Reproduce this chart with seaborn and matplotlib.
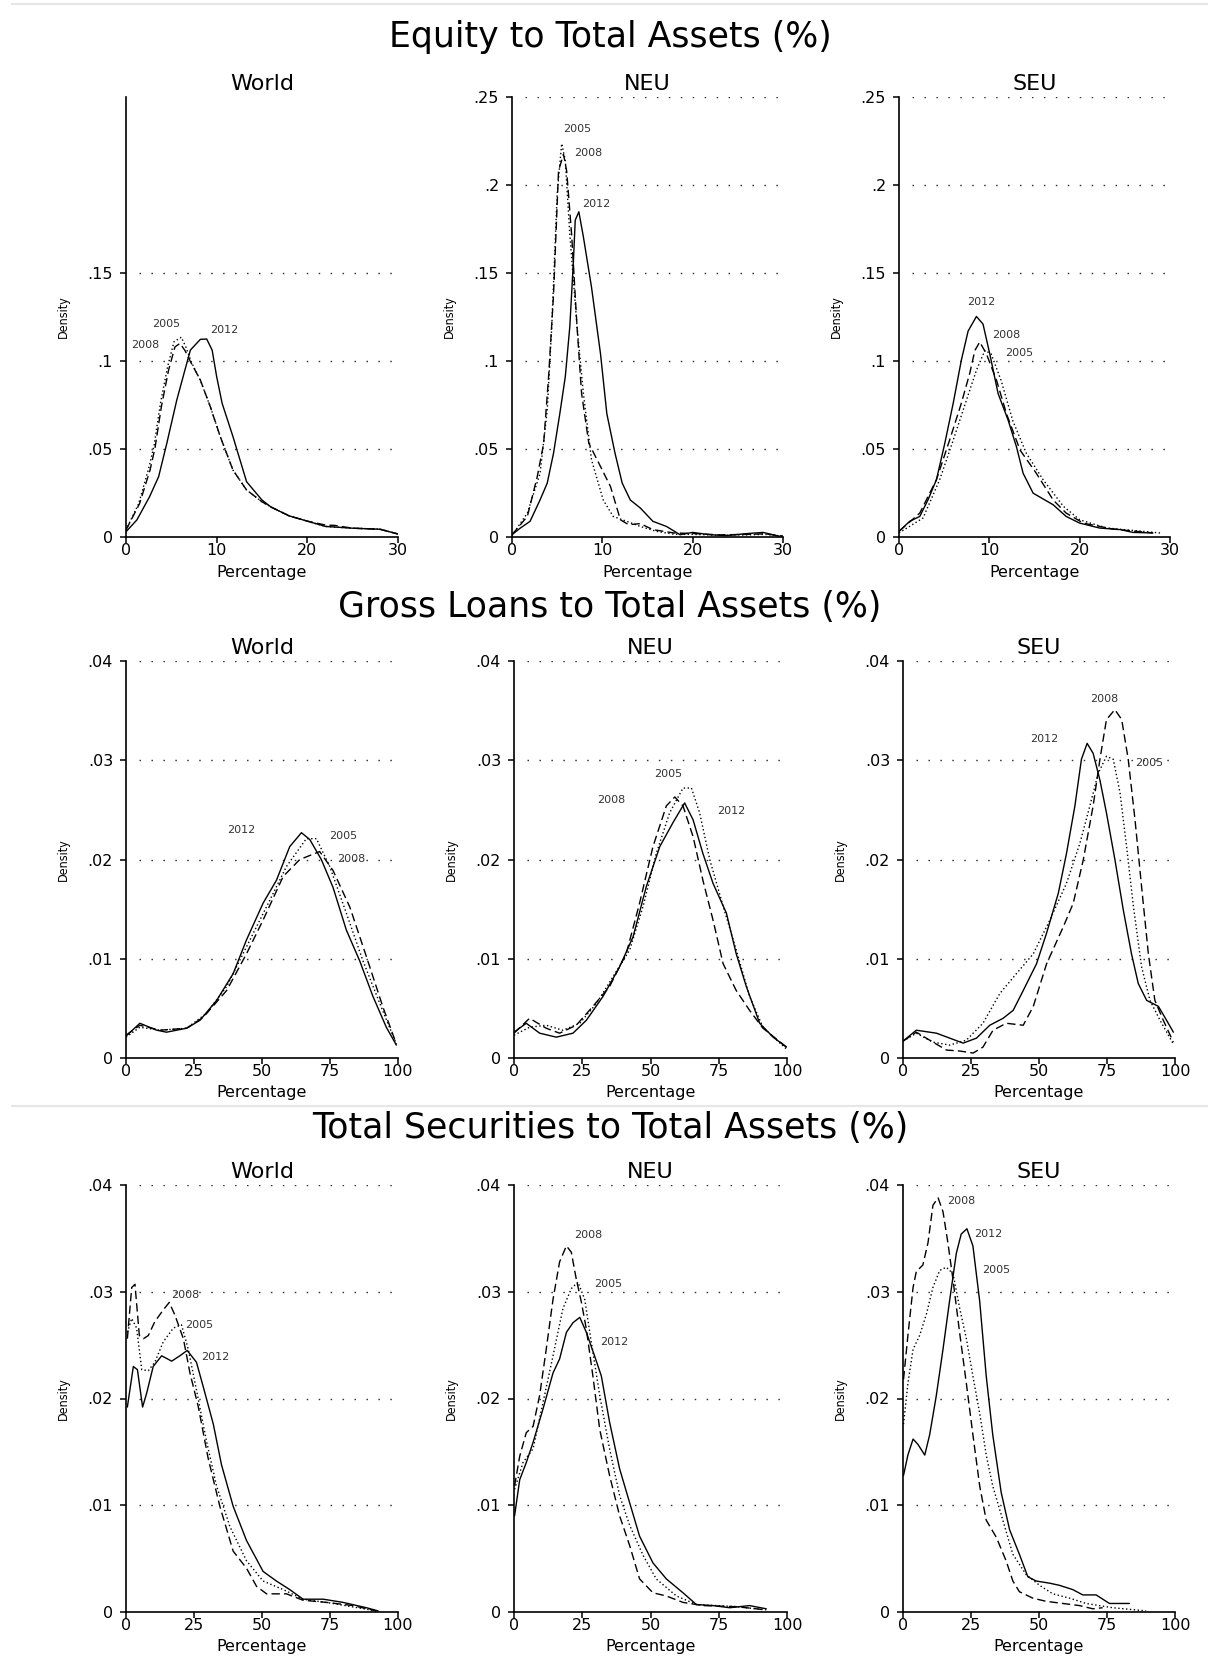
# bank_ratios_kdensity.py
# Kernel density of bank balance-sheet ratios, World / NEU / SEU, 2005-2008-2012

# === Imports ===
import matplotlib
matplotlib.use("Agg")
import matplotlib.pyplot as plt
from matplotlib import font_manager
from matplotlib.lines import Line2D
import pandas as pd
import seaborn as sns

# === Data ===
years = ["2005", "2008", "2012"]
regions = ["World", "NEU", "SEU"]
row_titles = ["Equity to Total Assets (%)",
              "Gross Loans to Total Assets (%)",
              "Total Securities to Total Assets (%)"]

eq_xticks = [0, 10, 20, 30]
eq_yticks = [0, 0.05, 0.1, 0.15, 0.2, 0.25]
eq_yticks_world = [0, 0.05, 0.1, 0.15]
pct_xticks = [0, 25, 50, 75, 100]
pct_yticks = [0, 0.01, 0.02, 0.03, 0.04]

# --- Equity to Total Assets ---
eq_world_2005_x = [0, 1.4, 2.5, 3.1, 3.8, 4.6, 5.3, 6.1, 6.6, 7.2, 8.2, 9.3, 10.4, 11.8, 13.3, 15, 16, 18, 20, 22, 25, 28, 30]
eq_world_2005_y = [0.004, 0.019, 0.039, 0.052, 0.076, 0.097, 0.111, 0.1135, 0.108, 0.0995, 0.089, 0.074, 0.057, 0.038, 0.0267, 0.020, 0.017, 0.012, 0.009, 0.006, 0.005, 0.0045, 0.0017]
eq_world_2008_x = [0, 1.5, 2.65, 3.2, 3.9, 4.7, 5.4, 5.95, 6.5, 7.2, 8.2, 9.3, 10.4, 11.8, 13.3, 15, 16, 18, 20, 22, 23, 25, 28, 30]
eq_world_2008_y = [0.004, 0.019, 0.038, 0.0506, 0.074, 0.0949, 0.108, 0.110, 0.106, 0.0987, 0.0892, 0.074, 0.057, 0.038, 0.0267, 0.020, 0.017, 0.012, 0.009, 0.0068, 0.0066, 0.005, 0.0044, 0.0017]
eq_world_2012_x = [0, 1.2, 2.6, 3.6, 4.5, 5.6, 6.5, 7.1, 8.2, 8.9, 9.5, 10, 10.6, 11.8, 13.3, 15, 16, 18, 20, 22, 25, 28, 30]
eq_world_2012_y = [0.003, 0.0097, 0.0229, 0.0343, 0.0532, 0.0778, 0.0949, 0.1062, 0.1123, 0.1125, 0.1062, 0.0911, 0.076, 0.057, 0.0314, 0.021, 0.017, 0.012, 0.009, 0.006, 0.005, 0.0044, 0.0017]

eq_neu_2005_x = [0, 1.7, 3.1, 3.9, 4.4, 5.0, 5.5, 5.9, 6.4, 7.2, 7.9, 8.8, 10.1, 11.2, 12.7, 14.2, 16, 18, 20, 23, 26, 28, 30]
eq_neu_2005_y = [0.0008, 0.0136, 0.036, 0.072, 0.1195, 0.195, 0.2235, 0.214, 0.172, 0.1195, 0.0817, 0.0439, 0.021, 0.0117, 0.0089, 0.006, 0.0032, 0.0015, 0.0015, 0.001, 0.0012, 0.0015, 0.0005]
eq_neu_2008_x = [0, 1.7, 2.8, 3.5, 4.05, 4.6, 5.15, 5.7, 6.05, 6.6, 7.2, 7.7, 8.5, 9.8, 10.9, 12.0, 12.9, 14.2, 15.6, 17.9, 20, 23, 26, 28, 30]
eq_neu_2008_y = [0.0013, 0.0117, 0.0344, 0.053, 0.091, 0.138, 0.208, 0.2175, 0.208, 0.172, 0.1195, 0.0817, 0.0533, 0.040, 0.0287, 0.0098, 0.007, 0.0076, 0.0042, 0.0023, 0.002, 0.0012, 0.0015, 0.0018, 0.0005]
eq_neu_2012_x = [0, 0.9, 2.0, 3.1, 3.9, 4.6, 5.3, 5.9, 6.4, 6.8, 7.0, 7.4, 7.9, 8.8, 9.8, 10.5, 11.4, 12.2, 13.1, 14.2, 15.6, 17.1, 18.6, 20, 21.9, 23.7, 25.9, 27.8, 29.6]
eq_neu_2012_y = [0.0013, 0.005, 0.0089, 0.021, 0.0306, 0.0477, 0.0703, 0.0911, 0.1195, 0.157, 0.18, 0.1848, 0.1706, 0.142, 0.104, 0.070, 0.0477, 0.0306, 0.021, 0.0165, 0.0089, 0.006, 0.0013, 0.0026, 0.0013, 0.0008, 0.0019, 0.0026, 0.0004]

eq_seu_2005_x = [0, 2.66, 4.5, 6.0, 7.46, 8.57, 9.5, 10.2, 11.3, 12.6, 14.1, 15.96, 18.2, 20, 23, 28.9]
eq_seu_2005_y = [0.0023, 0.0108, 0.0325, 0.055, 0.0777, 0.0947, 0.106, 0.104, 0.089, 0.066, 0.0475, 0.0325, 0.0174, 0.0098, 0.0051, 0.0023]
eq_seu_2008_x = [0, 2.3, 4.14, 5.6, 6.9, 7.83, 8.4, 8.94, 9.68, 10.8, 11.9, 13.4, 15.2, 17.07, 18.5, 20.4, 23.7, 28.1]
eq_seu_2008_y = [0.0032, 0.0136, 0.0325, 0.055, 0.076, 0.093, 0.106, 0.1108, 0.104, 0.089, 0.070, 0.0494, 0.0362, 0.021, 0.0136, 0.0079, 0.0045, 0.0023]
eq_seu_2012_x = [0, 1.18, 2.3, 3.2, 4.14, 5.06, 6.0, 6.9, 7.65, 8.57, 9.3, 10.05, 10.97, 12.08, 13.0, 13.74, 14.85, 17.07, 18.5, 20, 22.2, 24.5, 25.9, 28.1]
eq_seu_2012_y = [0.0032, 0.0089, 0.0117, 0.021, 0.0325, 0.053, 0.076, 0.1004, 0.117, 0.1253, 0.121, 0.104, 0.0815, 0.0664, 0.0513, 0.0362, 0.0249, 0.0183, 0.0117, 0.0079, 0.0051, 0.0042, 0.0026, 0.0023]

# --- Gross Loans to Total Assets ---
gl_world_2005_x = [0, 5.1, 12.5, 22.3, 29.6, 37, 44.3, 51.6, 59, 66.3, 70, 74.9, 81, 87.1, 93.3, 99.4]
gl_world_2005_y = [0.0021, 0.0031, 0.0028, 0.003, 0.0045, 0.0072, 0.0112, 0.0152, 0.0193, 0.0221, 0.0221, 0.0193, 0.0146, 0.0098, 0.0055, 0.0014]
gl_world_2008_x = [0, 5.1, 12.5, 22.3, 28.4, 37, 44.3, 50.4, 57.8, 63.9, 71.2, 76.1, 82.3, 88.4, 94.5, 99.4]
gl_world_2008_y = [0.0023, 0.0033, 0.0028, 0.003, 0.0041, 0.0068, 0.0105, 0.0139, 0.0183, 0.020, 0.0208, 0.0189, 0.0152, 0.0102, 0.0051, 0.0014]
gl_world_2012_x = [0, 5.1, 11.3, 14.9, 22.3, 27.2, 33.3, 39.4, 44.3, 50.4, 55.3, 60.2, 64.5, 67.6, 71.8, 76.1, 81, 85.9, 90.8, 95.7, 99.4]
gl_world_2012_y = [0.0022, 0.0035, 0.0028, 0.0026, 0.003, 0.0038, 0.0058, 0.0085, 0.0119, 0.0156, 0.0179, 0.0213, 0.0227, 0.022, 0.020, 0.0172, 0.0129, 0.0098, 0.0062, 0.0031, 0.0013]

gl_neu_2005_x = [0, 5.7, 11.8, 17.9, 24.1, 30.2, 36.3, 42.4, 47.3, 52.1, 57, 61.9, 65, 68, 71.7, 76.6, 81.4, 86.3, 91.2, 99.8]
gl_neu_2005_y = [0.0023, 0.0031, 0.0033, 0.0028, 0.0035, 0.0055, 0.0082, 0.0109, 0.0153, 0.0206, 0.0247, 0.0272, 0.0272, 0.0247, 0.020, 0.0153, 0.0109, 0.0062, 0.0031, 0.0009]
gl_neu_2008_x = [0, 5.7, 11.8, 16.7, 22.8, 28.9, 35, 41.1, 46, 50.9, 55.8, 58.9, 61.9, 65.6, 69.2, 72.9, 76.6, 81.4, 86.3, 91.2, 99.8]
gl_neu_2008_y = [0.0025, 0.004, 0.003, 0.0025, 0.0033, 0.0052, 0.0072, 0.0105, 0.0156, 0.0213, 0.0254, 0.0263, 0.0254, 0.0223, 0.0179, 0.0139, 0.0095, 0.0068, 0.0048, 0.003, 0.0011]
gl_neu_2012_x = [0, 4.5, 9.4, 15.5, 21.6, 26.5, 32.6, 38.7, 43.6, 48.5, 53.4, 58.2, 62.5, 65.6, 69.2, 72.9, 77.8, 81.4, 85.1, 90, 94.9, 99.8]
gl_neu_2012_y = [0.0026, 0.0035, 0.0025, 0.0021, 0.0025, 0.0038, 0.0062, 0.0092, 0.0122, 0.0173, 0.0213, 0.0237, 0.0257, 0.024, 0.0206, 0.0176, 0.0146, 0.0105, 0.0072, 0.0035, 0.0021, 0.0011]

gl_seu_2005_x = [0, 4.9, 11, 17.2, 23.3, 29.4, 35.6, 41.7, 47.9, 54, 60.1, 65, 68.7, 71.8, 74.8, 77.3, 79.8, 82.2, 84.7, 87.7, 90.8, 94.5, 99.4]
gl_seu_2005_y = [0.0017, 0.0025, 0.0016, 0.0013, 0.0018, 0.0035, 0.0065, 0.0085, 0.0105, 0.0139, 0.0176, 0.0216, 0.0254, 0.0287, 0.0304, 0.0301, 0.0267, 0.0213, 0.0153, 0.0092, 0.0058, 0.0038, 0.0014]
gl_seu_2008_x = [0, 4.9, 11, 16, 20.9, 25.8, 29.4, 33.1, 38, 44.2, 47.9, 52.8, 58.9, 62.6, 66.3, 69.9, 72.4, 74.8, 77.9, 80.4, 82.8, 85.3, 87.7, 90.2, 92.6, 95.7, 99.4]
gl_seu_2008_y = [0.0017, 0.0026, 0.0016, 0.0008, 0.0007, 0.0005, 0.0011, 0.0028, 0.0035, 0.0033, 0.0052, 0.0095, 0.0132, 0.0156, 0.020, 0.0254, 0.0301, 0.0341, 0.0351, 0.0341, 0.0301, 0.024, 0.0173, 0.0105, 0.0058, 0.0038, 0.0016]
gl_seu_2012_x = [0, 4.9, 12.3, 17.2, 22.1, 27, 31.9, 36.8, 40.5, 44.2, 49.1, 52.8, 57.1, 60.1, 63.2, 65.6, 67.7, 69.9, 72.4, 74.8, 77.9, 81, 84, 86.5, 89.6, 93.9, 96.9, 99.4]
gl_seu_2012_y = [0.0017, 0.0028, 0.0025, 0.002, 0.0015, 0.002, 0.0033, 0.004, 0.0048, 0.0068, 0.0095, 0.0126, 0.0166, 0.0206, 0.0254, 0.0301, 0.0317, 0.0307, 0.028, 0.0247, 0.020, 0.0149, 0.0105, 0.0075, 0.0058, 0.0052, 0.0038, 0.0026]

# --- Total Securities to Total Assets ---
ts_world_2005_x = [0.5, 2.1, 3.9, 5.8, 8.2, 10.6, 13.7, 17.4, 20.4, 22.9, 25.9, 29.6, 33.3, 38.2, 44.3, 50.4, 57.8, 65.1, 76.1, 92]
ts_world_2005_y = [0.0262, 0.0275, 0.0266, 0.0227, 0.0226, 0.0234, 0.0253, 0.0266, 0.0269, 0.0246, 0.0208, 0.016, 0.0118, 0.008, 0.0048, 0.0029, 0.0021, 0.0012, 0.0008, 0.0001]
ts_world_2008_x = [0.5, 2.1, 3.3, 4.9, 6.4, 8.2, 10.6, 13.7, 15.9, 18, 21.1, 23.5, 26.6, 30.2, 34.5, 39.4, 44.3, 48, 51.7, 59, 65.1, 73.7, 83.5, 92]
ts_world_2008_y = [0.0256, 0.0304, 0.0307, 0.0259, 0.0256, 0.0259, 0.0272, 0.0283, 0.029, 0.0278, 0.0256, 0.0224, 0.0192, 0.0144, 0.0099, 0.0057, 0.0041, 0.0024, 0.0017, 0.0017, 0.0011, 0.0009, 0.0006, 0.0001]
ts_world_2012_x = [0.5, 2.7, 4.2, 6.1, 7.6, 10, 13.1, 16.8, 19.8, 22.5, 25.9, 28.4, 32.1, 35.1, 39.4, 44.3, 50.4, 55.3, 60.2, 65.1, 72.5, 79.8, 88.4, 92.7]
ts_world_2012_y = [0.0192, 0.023, 0.0227, 0.0192, 0.0205, 0.023, 0.024, 0.0235, 0.024, 0.0245, 0.0234, 0.0211, 0.0176, 0.0138, 0.0099, 0.0067, 0.0038, 0.0029, 0.0021, 0.0012, 0.0012, 0.0009, 0.0004, 0.0001]

ts_neu_2005_x = [0.2, 3.3, 7, 10.6, 14.3, 17.9, 21, 23.4, 25.9, 28.3, 31.4, 35, 38.7, 42.4, 47.3, 52.1, 59.5, 66.8, 81.4, 92.4]
ts_neu_2005_y = [0.0115, 0.014, 0.0153, 0.0196, 0.024, 0.0284, 0.0303, 0.0309, 0.0293, 0.0253, 0.0203, 0.0153, 0.0109, 0.0081, 0.0053, 0.0031, 0.0015, 0.0007, 0.0005, 0.0002]
ts_neu_2008_x = [0.2, 2.1, 4.5, 7, 9.4, 11.8, 14.3, 16.7, 19.2, 21, 22.8, 24.7, 26.5, 28.9, 31.4, 35, 38.7, 42.4, 46, 50.9, 55.8, 61.9, 69.2, 81.4, 92.4]
ts_neu_2008_y = [0.0118, 0.0146, 0.0168, 0.0174, 0.0203, 0.0246, 0.0293, 0.0328, 0.0343, 0.0337, 0.0312, 0.029, 0.0265, 0.0221, 0.0171, 0.0128, 0.009, 0.0062, 0.0031, 0.0018, 0.0015, 0.0009, 0.0006, 0.0005, 0.0002]
ts_neu_2012_x = [0.2, 2.1, 4.5, 7, 10.6, 14.3, 16.7, 19.2, 21.6, 24.1, 26.5, 29.5, 32, 35, 38.7, 42.4, 46, 50.9, 55.8, 61.9, 66.8, 72.9, 79, 86.3, 92.4]
ts_neu_2012_y = [0.009, 0.0124, 0.014, 0.0159, 0.019, 0.0224, 0.0237, 0.0262, 0.0271, 0.0276, 0.0262, 0.024, 0.0221, 0.0178, 0.0134, 0.0102, 0.0071, 0.0046, 0.0031, 0.0018, 0.0007, 0.0006, 0.0004, 0.0006, 0.0003]

ts_seu_2005_x = [0.2, 1.8, 3.7, 6.1, 8.6, 11, 13.5, 15.9, 18.4, 20.8, 23.3, 25.7, 28.2, 30.6, 33, 36.7, 40.4, 45.3, 50.2, 55.1, 61.2, 67.3, 77.1, 89.4]
ts_seu_2005_y = [0.0176, 0.0214, 0.0246, 0.0259, 0.0279, 0.0304, 0.032, 0.0323, 0.0317, 0.0285, 0.0256, 0.0221, 0.0186, 0.0147, 0.0118, 0.0086, 0.0054, 0.0035, 0.0025, 0.0017, 0.0013, 0.0008, 0.0004, 0.0001]
ts_seu_2008_x = [0.2, 1.8, 3.7, 4.9, 7.3, 9.2, 11, 12.9, 14.7, 16.5, 18.4, 20.8, 23.3, 25.7, 28.2, 30.6, 34.3, 37.9, 40.4, 42.8, 47.7, 52.6, 58.8, 64.9, 69.8, 73.4]
ts_seu_2008_y = [0.0218, 0.0259, 0.0304, 0.0319, 0.0325, 0.0346, 0.0381, 0.0388, 0.0375, 0.0346, 0.0311, 0.0262, 0.0214, 0.0166, 0.0118, 0.0086, 0.007, 0.0048, 0.0029, 0.0019, 0.0013, 0.001, 0.0008, 0.0006, 0.0003, 0.0004]
ts_seu_2012_x = [0.2, 1.8, 3.7, 5.5, 8, 9.8, 12.2, 14.7, 17.1, 19.6, 21.4, 23.5, 25.7, 28.2, 30.6, 33, 36.1, 39.2, 42.8, 45.9, 49, 53.9, 57.5, 62.4, 66.1, 71, 75.9, 79.6, 83.2]
ts_seu_2012_y = [0.0128, 0.0147, 0.0162, 0.0157, 0.0147, 0.0166, 0.0202, 0.0246, 0.0291, 0.0336, 0.0354, 0.0359, 0.0343, 0.0291, 0.0221, 0.0166, 0.0112, 0.0077, 0.0054, 0.0033, 0.0029, 0.0027, 0.0025, 0.0021, 0.0016, 0.0016, 0.0008, 0.0008, 0.0008]

# --- Year labels next to the curves: (text, x, y) ---
eq_world_labels = [("2005", 4.4, 0.121), ("2008", 2.1, 0.109), ("2012", 10.8, 0.1176)]
eq_neu_labels = [("2005", 7.2, 0.2317), ("2008", 8.4, 0.218), ("2012", 9.3, 0.189)]
eq_seu_labels = [("2012", 9.1, 0.1334), ("2008", 11.9, 0.115), ("2005", 13.3, 0.1047)]
gl_world_labels = [("2012", 42.5, 0.023), ("2005", 80, 0.0224), ("2008", 82.9, 0.0201)]
gl_neu_labels = [("2005", 56.4, 0.0286), ("2008", 35.7, 0.026), ("2012", 79.6, 0.0249)]
gl_seu_labels = [("2008", 73.9, 0.0362), ("2012", 52.1, 0.0321), ("2005", 90.6, 0.0297)]
ts_world_labels = [("2008", 21.7, 0.0297), ("2005", 26.9, 0.0269), ("2012", 32.7, 0.0239)]
ts_neu_labels = [("2008", 27.1, 0.0353), ("2005", 34.4, 0.0307), ("2012", 36.9, 0.0253)]
ts_seu_labels = [("2008", 21.4, 0.0385), ("2012", 31.2, 0.0354), ("2005", 34.3, 0.032)]


# === Build long tables for seaborn ===
def panel_frame(c05, c08, c12):
    parts = []
    for year, (xs, ys) in zip(years, [c05, c08, c12]):
        parts.append(pd.DataFrame({"Percentage": xs, "Density": ys, "Year": year}))
    return pd.concat(parts, ignore_index=True)


panels = [
    [panel_frame((eq_world_2005_x, eq_world_2005_y), (eq_world_2008_x, eq_world_2008_y), (eq_world_2012_x, eq_world_2012_y)),
     panel_frame((eq_neu_2005_x, eq_neu_2005_y), (eq_neu_2008_x, eq_neu_2008_y), (eq_neu_2012_x, eq_neu_2012_y)),
     panel_frame((eq_seu_2005_x, eq_seu_2005_y), (eq_seu_2008_x, eq_seu_2008_y), (eq_seu_2012_x, eq_seu_2012_y))],
    [panel_frame((gl_world_2005_x, gl_world_2005_y), (gl_world_2008_x, gl_world_2008_y), (gl_world_2012_x, gl_world_2012_y)),
     panel_frame((gl_neu_2005_x, gl_neu_2005_y), (gl_neu_2008_x, gl_neu_2008_y), (gl_neu_2012_x, gl_neu_2012_y)),
     panel_frame((gl_seu_2005_x, gl_seu_2005_y), (gl_seu_2008_x, gl_seu_2008_y), (gl_seu_2012_x, gl_seu_2012_y))],
    [panel_frame((ts_world_2005_x, ts_world_2005_y), (ts_world_2008_x, ts_world_2008_y), (ts_world_2012_x, ts_world_2012_y)),
     panel_frame((ts_neu_2005_x, ts_neu_2005_y), (ts_neu_2008_x, ts_neu_2008_y), (ts_neu_2012_x, ts_neu_2012_y)),
     panel_frame((ts_seu_2005_x, ts_seu_2005_y), (ts_seu_2008_x, ts_seu_2008_y), (ts_seu_2012_x, ts_seu_2012_y))],
]
labels = [[eq_world_labels, eq_neu_labels, eq_seu_labels],
          [gl_world_labels, gl_neu_labels, gl_seu_labels],
          [ts_world_labels, ts_neu_labels, ts_seu_labels]]

# === Style ===
sns.set_theme(style="ticks")
plt.rcParams["font.family"] = ["DejaVu Sans"]
plt.rcParams["axes.edgecolor"] = "black"
plt.rcParams["axes.linewidth"] = 1.2

font_names = {f.name for f in font_manager.fontManager.ttflist}
if "Liberation Sans Narrow" in font_names:
    dens_font = dict(family=["Liberation Sans Narrow"], fontsize=11.5)
else:
    dens_font = dict(family=["DejaVu Sans"], fontsize=9, fontstretch="condensed")

line_dashes = {"2005": (1, 1.8), "2008": (6, 3), "2012": ""}


def stata_fmt(v):
    if v == 0:
        return "0"
    return f"{v:g}".lstrip("0")


# === Layout (pixels of a 1208x1657 canvas) ===
W, H = 1208, 1657
fig = plt.figure(figsize=(W / 100, H / 100), dpi=100)

row_layout = [
    dict(base=47, top=97, bottom=537, lefts=[126, 512, 899], rights=[398, 783, 1170],
         xlim=30, xticks=eq_xticks, ylim=0.25),
    dict(base=617, top=661, bottom=1058, lefts=[126, 514, 903], rights=[398, 787, 1175],
         xlim=100, xticks=pct_xticks, ylim=0.04),
    dict(base=1138, top=1185, bottom=1612, lefts=[126, 514, 903], rights=[398, 787, 1175],
         xlim=100, xticks=pct_xticks, ylim=0.04),
]
xlab_off = 35

# faint separators between the stacked graphs (drawn under everything)
for yy in [4, 1106]:
    fig.add_artist(Line2D([0.01, 1], [1 - yy / H, 1 - yy / H], color="#e6e6e6", lw=1.5,
                          zorder=-5))

for r, lay in enumerate(row_layout):
    fig.text(610 / W, 1 - lay["base"] / H, row_titles[r], ha="center", va="baseline",
             fontsize=25, color="black")
    for c, region in enumerate(regions):
        left, right = lay["lefts"][c], lay["rights"][c]
        top, bottom = lay["top"], lay["bottom"]
        ax = fig.add_axes([left / W, 1 - bottom / H, (right - left) / W, (bottom - top) / H])
        ax.patch.set_alpha(0)

        if r == 0:
            yt = eq_yticks_world if region == "World" else eq_yticks
        else:
            yt = pct_yticks

        # dotted grid lines
        for v in yt[1:]:
            ax.axhline(v, xmin=0.048, xmax=0.985, color="#333333", lw=1.0,
                       ls=(0, (1.1, 7.5)), zorder=1)

        sns.lineplot(data=panels[r][c], x="Percentage", y="Density", style="Year",
                     style_order=years, dashes=line_dashes, color="black", lw=1.0,
                     estimator=None, legend=False, ax=ax, zorder=3)

        for txt, lx, ly in labels[r][c]:
            ax.text(lx, ly, txt, ha="center", va="center", fontsize=8, color="#333333")

        ax.set_xlim(0, lay["xlim"])
        ax.set_ylim(0, lay["ylim"])
        ax.set_xticks(lay["xticks"])
        ax.set_xticklabels([str(t) for t in lay["xticks"]])
        ax.set_yticks(yt)
        ax.set_yticklabels([stata_fmt(t) for t in yt])
        ax.tick_params(axis="both", direction="out", length=4.3, width=1.1, color="black",
                       labelsize=11.5, labelcolor="black")
        ax.tick_params(axis="x", pad=0.3)
        ax.tick_params(axis="y", pad=5)
        sns.despine(ax=ax)

        ax.set_title(region, fontsize=16, pad=5, color="black")
        ax.set_xlabel("Percentage", fontsize=11.5, color="black")
        ax.xaxis.set_label_coords(0.5, -xlab_off / (bottom - top))
        ax.xaxis.label.set_va("center")
        ax.set_ylabel("Density", color="black", **dens_font)
        ax.yaxis.set_label_coords(-63 / (right - left), 0.5)
        ax.yaxis.label.set_va("center")

fig.savefig("out.png", dpi=100, facecolor="white")
